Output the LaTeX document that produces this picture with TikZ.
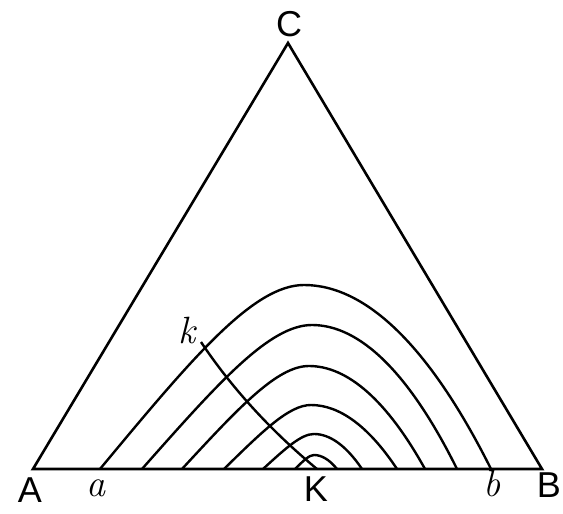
\documentclass[tikz,border=0pt]{standalone}
\usepackage{fontspec}
\setsansfont{Liberation Sans}
\usetikzlibrary{positioning}
\begin{document}
\begin{tikzpicture}[x=1pt,y=-1pt]
\tikzstyle{every node}+=[inner sep=0pt]
\tikzstyle{corner}=[font=\sffamily\fontsize{36}{36}\selectfont]
\tikzstyle{point}=[font=\itshape\fontsize{38}{38}\selectfont]
\tikzstyle{side}=[black,line width=2.6pt]
\tikzstyle{isoline}=[black,line width=2.4pt]
\useasboundingbox (0,0) rectangle (563,514);
\coordinate (A) at (33,469);
\coordinate (B) at (542,469);
\coordinate (C) at (288,43);
\coordinate (a) at (100,469);
\coordinate (b) at (491,469);
\coordinate (k) at (201,342);
\coordinate (K) at (317,469);
\draw [side] (A) -- (B) -- (C) -- cycle;
% nested curves: left end / top x / top y / right end
\foreach \lx/\px/\hy/\rx in {100/304/285/491,142/312/325/457,182/309/366/425,224/311/405/397,263/314/434/362,295/314/455/337}
  \draw [isoline] (\lx,469) .. controls ({\lx+0.45*(\px-\lx)},{469-0.6*(469-\hy)}) and ({\px-0.25*(\px-\lx)},\hy) .. (\px,\hy)
    .. controls ({\px+0.33*(\rx-\px)},\hy) and ({\rx-0.33*(\rx-\px)},{469-0.67*(469-\hy)}) .. (\rx,469);
\draw [isoline] (k) .. controls (231,387) and (270,430) .. (K);
\node [corner] (labA) at (30,490) {A};
\node [corner] (labB) at (549,485) {B};
\node [corner] (labC) at (289,24) {C};
\node [corner] (labK) at (316,489) {K};
\node [point] (laba) at (96,488) {a};
\node [point] (labb) at (492,484) {b};
\node [point] (labk) at (187,331) {k};
\end{tikzpicture}
\end{document}
